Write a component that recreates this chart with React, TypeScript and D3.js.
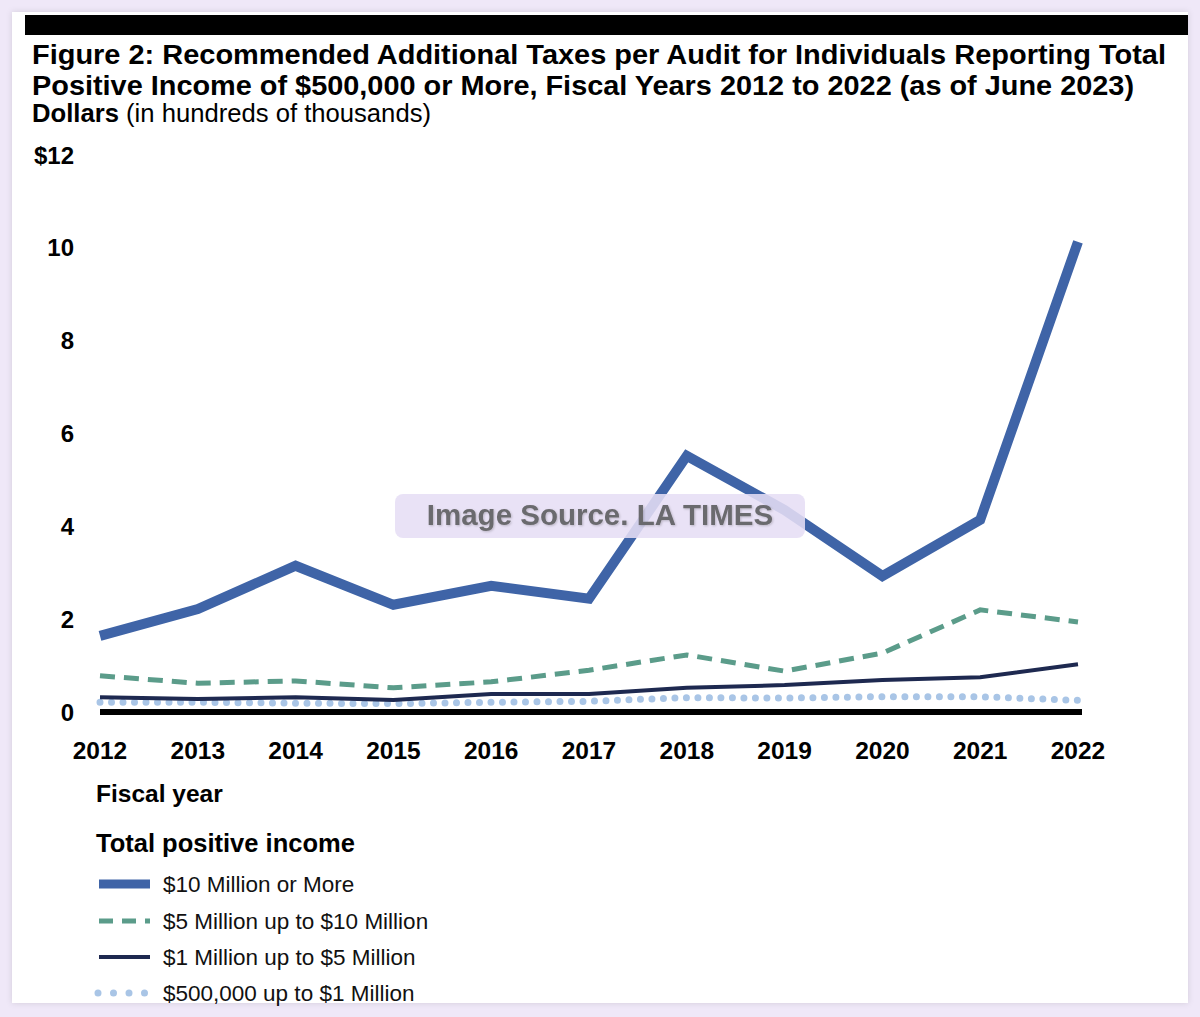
import React from "react";
import * as d3 from "d3";

const years = [2012, 2013, 2014, 2015, 2016, 2017, 2018, 2019, 2020, 2021, 2022];
const tenMillionPlus = [1.64, 2.22, 3.15, 2.31, 2.72, 2.44, 5.52, 4.35, 2.93, 4.14, 10.13];
const fiveToTen = [0.78, 0.62, 0.67, 0.52, 0.65, 0.9, 1.23, 0.88, 1.27, 2.2, 1.94];
const oneToFive = [0.32, 0.28, 0.32, 0.26, 0.39, 0.39, 0.52, 0.58, 0.69, 0.75, 1.03];
const halfToOne = [0.21, 0.21, 0.19, 0.18, 0.21, 0.23, 0.31, 0.3, 0.33, 0.33, 0.25];
const yTicks = [0, 2, 4, 6, 8, 10, 12];
const seriesNames = [
  "$10 Million or More",
  "$5 Million up to $10 Million",
  "$1 Million up to $5 Million",
  "$500,000 up to $1 Million",
];

const FONT = "'Liberation Sans', Arial, Helvetica, sans-serif";

const styles = [
  { color: "#3f64a7", width: 10, dash: "", cap: "butt" },
  { color: "#5b9c8a", width: 5, dash: "15,9", cap: "butt" },
  { color: "#1e2950", width: 4, dash: "", cap: "butt" },
  { color: "#a9c5e6", width: 7, dash: "0,11.5", cap: "round" },
];

export default function App() {
  const W = 1200;
  const H = 1017;
  const x = d3.scaleLinear().domain([2012, 2022]).range([100, 1078]);
  const y = d3.scaleLinear().domain([0, 12]).range([712, 155]);
  const line = d3
    .line<number>()
    .x((_, i) => x(years[i]))
    .y((d) => y(d));
  const data = [tenMillionPlus, fiveToTen, oneToFive, halfToOne];
  const drawOrder = [3, 2, 1, 0];
  const legendY = [884, 921, 957, 993];

  return (
    <div style={{ position: "absolute", left: 0, top: 0 }}>
      <svg width={W} height={H} style={{ display: "block" }} fontFamily={FONT}>
        <defs>
          <filter id="shadow" x="-5%" y="-5%" width="110%" height="110%">
            <feDropShadow dx="0" dy="0" stdDeviation="3" floodColor="#000" floodOpacity="0.12" />
          </filter>
          <filter id="tshadow" x="-5%" y="-20%" width="110%" height="140%">
            <feDropShadow dx="1" dy="1" stdDeviation="1" floodColor="#000" floodOpacity="0.2" />
          </filter>
        </defs>
        <rect x={0} y={0} width={W} height={H} fill="#efe8f8" />
        <rect x={12} y={12} width={1176} height={991} fill="#ffffff" filter="url(#shadow)" />
        <rect x={25} y={15} width={1163} height={20} fill="#000" />

        <text x={32} y={64} fontSize={27} fontWeight="bold" fill="#000" textLength={1134} lengthAdjust="spacingAndGlyphs">
          Figure 2: Recommended Additional Taxes per Audit for Individuals Reporting Total
        </text>
        <text x={32} y={95} fontSize={27} fontWeight="bold" fill="#000" textLength={1102} lengthAdjust="spacingAndGlyphs">
          Positive Income of $500,000 or More, Fiscal Years 2012 to 2022 (as of June 2023)
        </text>
        <text x={32} y={122} fontSize={25} fill="#000" textLength={399} lengthAdjust="spacingAndGlyphs">
          <tspan fontWeight="bold">Dollars</tspan>
          <tspan> (in hundreds of thousands)</tspan>
        </text>

        {yTicks.map((t) => (
          <text key={t} x={74} y={y(t)} dy="0.36em" textAnchor="end" fontSize={24} fontWeight="bold" fill="#000">
            {t === 12 ? "$12" : String(t)}
          </text>
        ))}
        {years.map((yr) => (
          <text key={yr} x={x(yr)} y={750} dy="0.36em" textAnchor="middle" fontSize={24.5} fontWeight="bold" fill="#000">
            {yr}
          </text>
        ))}

        <line x1={x(2012)} x2={x(2022) + 4} y1={y(0)} y2={y(0)} stroke="#000" strokeWidth={6} />

        {drawOrder.map((si) => (
          <path
            key={si}
            d={line(data[si]) || ""}
            fill="none"
            stroke={styles[si].color}
            strokeWidth={styles[si].width}
            strokeDasharray={styles[si].dash || undefined}
            strokeLinecap={styles[si].cap as any}
            strokeLinejoin="miter"
          />
        ))}

        <rect x={395} y={494} width={410} height={44} rx={8} fill="#e6def5" fillOpacity={0.88} />
        <text x={600} y={514} dy="0.36em" textAnchor="middle" fontSize={29.5} fontWeight="bold" fill="#6b6a6e" filter="url(#tshadow)">
          Image Source. LA TIMES
        </text>

        <text x={96} y={793} dy="0.36em" fontSize={24.5} fontWeight="bold" fill="#000">
          Fiscal year
        </text>
        <text x={96} y={843} dy="0.36em" fontSize={25.5} fontWeight="bold" fill="#000">
          Total positive income
        </text>
        {seriesNames.map((name, i) => (
          <g key={name}>
            <line
              x1={i === 3 ? 98 : 99}
              x2={i === 3 ? 146 : 150}
              y1={legendY[i]}
              y2={legendY[i]}
              stroke={styles[i].color}
              strokeWidth={i === 0 ? 9 : styles[i].width}
              strokeDasharray={i === 1 ? "14,9" : i === 3 ? "0,15.5" : undefined}
              strokeLinecap={styles[i].cap as any}
            />
            <text x={163} y={legendY[i]} dy="0.36em" fontSize={22.5} fill="#111">
              {name}
            </text>
          </g>
        ))}
      </svg>
    </div>
  );
}
